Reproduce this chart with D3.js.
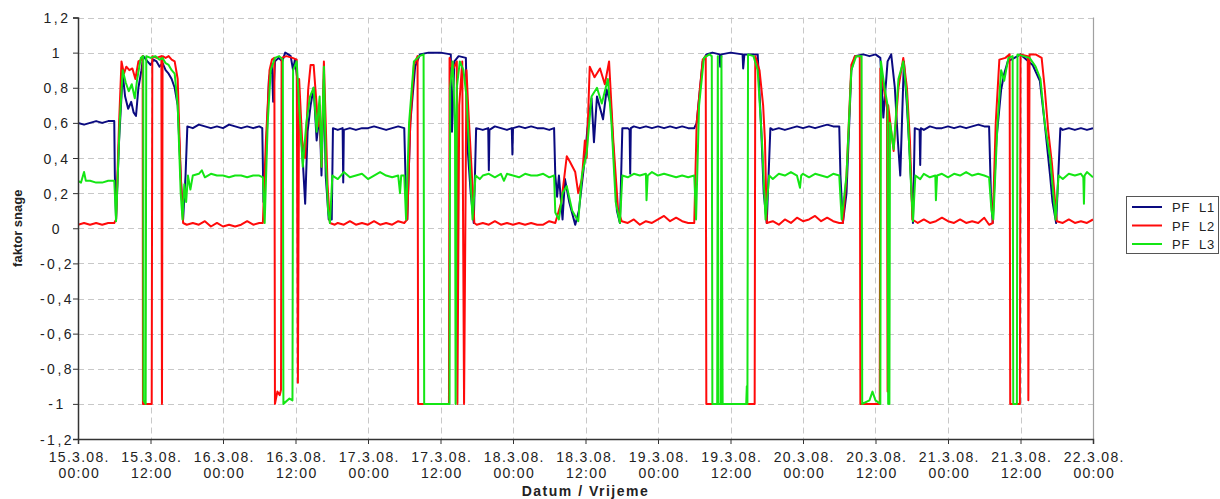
<!DOCTYPE html>
<html>
<head>
<meta charset="utf-8">
<script src="https://cdn.jsdelivr.net/npm/d3@7"></script>
<style>
  body { margin: 0; background: #fff; }
  svg { display: block; font-family: "Liberation Sans", Arial, sans-serif; }
</style>
</head>
<body>
<svg width="1220" height="499"></svg>
<script>
// [hours since 15.3.08. 00:00, power factor]
const pfL1 = [
  [0,0.60],[1,0.59],[2,0.60],[3,0.61],[4,0.60],[5,0.61],[6,0.61],[6.1,0.3],[6.3,0.05],[6.8,0.5],[7.4,0.88],[7.8,0.75],
  [8.3,0.68],[8.8,0.72],[9.2,0.66],[9.6,0.64],[10.0,0.8],[10.5,0.9],[10.8,0.98],[11.5,0.95],[12,0.93],[12.5,0.96],[13,0.95],
  [13.5,0.92],[14,0.94],[14.5,0.9],[15,0.88],[15.5,0.85],[16,0.8],[16.5,0.7],[17,0.3],[17.4,0.05],[17.8,0.3],[18.1,0.58],
  [19,0.57],[20,0.59],[21,0.58],[22,0.57],[23,0.58],[24,0.57],[25,0.59],[26,0.58],[27,0.57],[28,0.58],[29,0.57],[30,0.58],
  [30.5,0.57],[30.7,0.15],[31.0,0.3],[31.6,0.85],[32.1,0.93],[32.3,0.72],[32.6,0.95],[33.2,0.97],[33.8,0.95],[34.3,1.0],
  [34.8,0.99],[35.2,0.98],[35.6,0.9],[35.9,0.96],[36.3,0.85],[36.7,0.6],[37.1,0.45],[37.6,0.14],[38.0,0.55],[38.5,0.7],
  [39.0,0.8],[39.5,0.5],[40.0,0.65],[40.3,0.3],[40.7,0.85],[41.0,0.3],[41.5,0.05],[42.0,0.05],[42.2,0.57],[43,0.56],
  [43.8,0.57],[43.9,0.26],[44.0,0.56],[45,0.57],[46,0.56],[47,0.57],[48,0.57],[49,0.58],[50,0.57],[51,0.56],[52,0.57],
  [53,0.58],[54,0.57],[54.2,0.3],[54.5,0.05],[55,0.6],[55.8,0.92],[56.6,0.99],[58,1.0],[60,1.0],[61.7,0.99],[61.9,0.55],
  [62.3,0.95],[63,0.98],[64.2,0.97],[64.5,0.45],[65,0.2],[65.5,0.03],[65.9,0.57],[67,0.56],[67.9,0.57],[68,0.33],[68.1,0.56],
  [69,0.58],[70,0.57],[71,0.56],[71.8,0.57],[71.9,0.42],[72,0.57],[73,0.58],[74,0.57],[75,0.58],[76,0.57],[77,0.57],
  [78,0.56],[78.8,0.57],[79.0,0.3],[79.3,0.18],[79.6,0.3],[80.2,0.05],[80.6,0.28],[81.3,0.15],[82.3,0.02],[82.9,0.1],
  [83.9,0.4],[84.4,0.6],[85,0.74],[85.4,0.49],[85.9,0.75],[86.9,0.62],[87.5,0.79],[88.2,0.7],[89.2,0.1],[89.7,0.03],
  [90.1,0.57],[91,0.57],[91.3,0.56],[91.4,0.31],[91.5,0.57],[92,0.58],[93,0.57],[94,0.58],[95,0.57],[96,0.58],[97,0.57],
  [98,0.58],[99,0.57],[100,0.58],[101,0.57],[102,0.57],[102.4,0.6],[103.4,0.95],[104,0.99],[105,1.0],[106.2,0.99],
  [106.3,0.92],[106.5,0.99],[108,1.0],[110,0.99],[110.1,0.91],[110.3,0.99],[112.5,0.99],[113.1,0.55],[113.5,0.2],[114,0.03],
  [114.6,0.57],[115,0.56],[116,0.57],[117,0.56],[118,0.57],[119,0.58],[120,0.57],[121,0.58],[122,0.57],[123,0.58],
  [124,0.59],[125,0.58],[126,0.58],[126.2,0.3],[126.6,0.03],[127.2,0.2],[128,0.9],[128.6,0.98],[130,0.99],[131,0.98],
  [132,0.99],[132.8,0.97],[133.3,0.63],[134,0.95],[134.6,0.99],[135.2,0.8],[135.7,0.5],[136.1,0.3],[136.7,0.95],[137.2,0.7],
  [137.7,0.4],[138.2,0.03],[138.5,0.57],[139.3,0.56],[139.4,0.36],[139.5,0.57],[140,0.56],[141,0.58],[142,0.57],[143,0.57],
  [144,0.58],[145,0.57],[146,0.58],[147,0.57],[148,0.58],[149,0.59],[150,0.58],[150.8,0.58],[151.1,0.2],[151.4,0.03],
  [152.0,0.5],[152.8,0.79],[153.3,0.88],[153.9,0.95],[155,0.97],[156,0.99],[157,0.96],[158,0.93],[159.2,0.84],[160,0.6],
  [160.9,0.3],[161.3,0.15],[161.9,0.03],[162.6,0.57],[163,0.56],[164,0.57],[165,0.56],[166,0.57],[167,0.56],[168,0.57],
];
const pfL2 = [
  [0,0.02],[1,0.03],[2,0.02],[3,0.03],[4,0.02],[5,0.03],[6,0.03],[6.3,0.05],[6.8,0.6],[7.2,0.95],[7.6,0.88],[8.0,0.92],
  [8.5,0.9],[9.0,0.91],[9.5,0.85],[10.0,0.95],[10.5,0.96],[10.7,0.98],[10.75,-1],[12.2,-1],[12.3,0.98],[13.0,0.97],
  [13.8,0.98],[13.9,-1],[14.0,0.98],[14.5,0.97],[15,0.98],[15.5,0.96],[16,0.95],[16.5,0.85],[17.0,0.3],[17.4,0.03],
  [18,0.02],[19,0.03],[20,0.02],[21,0.04],[22,0.01],[23,0.03],[24,0.01],[25,0.02],[26,0.01],[27,0.02],[28,0.04],[29,0.02],
  [30,0.03],[30.6,0.03],[31.1,0.5],[31.7,0.9],[32.1,0.96],[32.5,0.97],[32.6,-1],[33.0,-0.93],[33.4,-0.95],[33.6,-0.92],
  [33.7,0.97],[34.5,0.98],[35.5,0.97],[36.2,0.96],[36.4,-0.88],[36.6,0.85],[37.1,0.5],[37.6,0.4],[38.1,0.79],[38.5,0.93],
  [39.0,0.93],[39.5,0.7],[39.7,0.58],[40.0,0.7],[40.3,0.35],[40.7,0.95],[41.0,0.6],[41.3,0.25],[41.7,0.03],[42.5,0.02],
  [43,0.03],[44,0.02],[45,0.04],[46,0.02],[47,0.03],[48,0.02],[49,0.04],[50,0.02],[51,0.03],[52,0.02],[53,0.04],[54,0.03],
  [54.5,0.05],[55,0.6],[55.6,0.93],[56.2,0.98],[56.3,-1],[61.4,-1],[61.5,0.97],[62,0.9],[62.7,0.95],[62.8,-1],[63.1,0.7],
  [63.6,0.95],[63.9,-1],[64.3,0.9],[64.6,0.68],[65.2,0.3],[65.6,0.03],[66,0.02],[67,0.03],[68,0.02],[69,0.04],[70,0.02],
  [71,0.03],[72,0.02],[73,0.03],[74,0.02],[75,0.03],[76,0.02],[77,0.02],[78,0.04],[79,0.03],[80,0.15],[80.9,0.41],
  [81.4,0.38],[82.3,0.32],[82.8,0.2],[83.4,0.28],[83.9,0.5],[84.2,0.4],[84.7,0.92],[85.5,0.86],[86.4,0.91],[87.2,0.82],
  [87.9,0.95],[88.6,0.5],[89.4,0.1],[90,0.04],[91,0.03],[92,0.05],[93,0.02],[94,0.04],[95,0.03],[96,0.05],[97,0.07],
  [98,0.04],[99,0.06],[100,0.04],[101,0.03],[102,0.03],[102.4,0.6],[103.4,0.96],[103.9,0.98],[104.0,-1],[112.0,-1],
  [112.1,0.98],[112.8,0.9],[113.4,0.7],[113.7,0.5],[114,0.03],[115,0.04],[116,0.02],[117,0.05],[118,0.03],[119,0.06],
  [120,0.04],[121,0.05],[122,0.07],[123,0.04],[124,0.06],[125,0.04],[126,0.03],[126.6,0.03],[127.2,0.3],[128,0.93],
  [128.6,0.98],[129.4,0.98],[129.5,-1],[132.7,-1],[132.8,0.91],[133.9,0.69],[134.0,-0.93],[134.1,0.7],[135,0.44],
  [135.8,0.8],[136.6,0.97],[137.2,0.8],[137.7,0.5],[138.1,0.05],[139,0.03],[140,0.05],[141,0.03],[142,0.04],[143,0.06],
  [144,0.04],[145,0.03],[146,0.05],[147,0.03],[148,0.04],[149,0.03],[150,0.06],[150.8,0.02],[151.4,0.03],[151.9,0.6],
  [152.5,0.96],[153.5,0.97],[154.2,0.99],[154.3,-1],[155.9,-1],[156,0.99],[157.2,0.98],[157.3,-0.98],[157.5,0.99],
  [158.5,0.99],[159.5,0.97],[160,0.8],[160.6,0.55],[161.2,0.37],[162,0.04],[163,0.03],[164,0.05],[165,0.03],[166,0.04],
  [167,0.03],[168,0.05],
];
const pfL3 = [
  [0,0.27],[0.5,0.26],[1,0.32],[1.3,0.27],[2,0.27],[3,0.26],[4,0.26],[5,0.27],[6,0.27],[6.1,0.2],[6.3,0.04],[6.9,0.6],
  [7.4,0.9],[7.9,0.83],[8.4,0.78],[8.9,0.82],[9.4,0.74],[9.8,0.85],[10.4,0.97],[10.8,0.98],[10.85,-0.98],[11.2,-1],
  [11.3,0.98],[12,0.97],[12.8,0.98],[13.5,0.96],[14,0.97],[14.5,0.94],[15,0.93],[15.5,0.9],[16,0.88],[16.5,0.7],[17,0.2],
  [17.3,0.05],[17.6,0.25],[17.9,0.15],[18.2,0.3],[18.6,0.22],[19,0.3],[20,0.31],[20.5,0.33],[21,0.29],[22,0.31],[23,0.3],
  [24,0.3],[25,0.29],[26,0.3],[27,0.3],[28,0.29],[29,0.3],[30,0.3],[30.6,0.29],[30.9,0.03],[31.4,0.6],[31.9,0.9],
  [32.6,0.97],[33.3,0.98],[33.9,0.96],[34.0,-1],[35.0,-0.97],[35.5,-0.98],[35.6,0.9],[36.2,0.95],[36.6,0.7],[37.2,0.35],
  [37.8,0.6],[38.4,0.75],[39,0.8],[39.5,0.55],[40,0.75],[40.3,0.35],[40.7,0.92],[41.0,0.4],[41.4,0.1],[41.7,0.03],
  [42.1,0.3],[43,0.28],[44,0.32],[45,0.29],[46,0.3],[47,0.31],[48,0.28],[49,0.3],[50,0.32],[51,0.3],[52,0.29],[53,0.3],
  [53.3,0.2],[53.5,0.3],[54,0.3],[54.3,0.05],[54.8,0.6],[55.6,0.95],[56.5,0.98],[57.2,0.99],[57.3,-1],[61.5,-1],[61.6,0.8],
  [62,0.95],[62.4,0.6],[62.5,-1],[62.7,0.8],[63.2,0.95],[63.8,0.9],[64.3,0.75],[64.8,0.4],[65.3,0.05],[65.8,0.3],
  [66.5,0.28],[67,0.3],[68,0.31],[69,0.29],[70,0.31],[70.5,0.27],[71,0.31],[72,0.3],[73,0.29],[74,0.31],[75,0.3],[76,0.3],
  [77,0.31],[78,0.29],[78.8,0.3],[79.0,0.09],[79.6,0.05],[80.2,0.2],[80.9,0.24],[81.8,0.1],[82.8,0.04],[83.4,0.3],
  [84.2,0.43],[85,0.75],[85.9,0.8],[86.7,0.71],[87.7,0.85],[88.3,0.6],[89,0.15],[89.7,0.03],[90.1,0.3],[91,0.29],[92,0.31],
  [93,0.3],[94,0.31],[94.1,0.16],[94.3,0.3],[95,0.32],[96,0.3],[97,0.31],[98,0.3],[99,0.29],[100,0.3],[101,0.29],[102,0.3],
  [102.3,0.05],[102.8,0.7],[103.6,0.97],[104.5,0.99],[104.9,0.98],[105.0,-1],[105.8,-1],[105.9,0.98],[106.0,-1],[106.4,-1],
  [106.5,0.98],[106.7,-1],[110.6,-1],[110.7,-0.9],[110.8,-1],[110.9,0.99],[111.8,0.98],[112.5,0.9],[113.2,0.5],[113.8,0.05],
  [114.4,0.3],[115,0.28],[116,0.31],[117,0.3],[118,0.32],[119,0.3],[119.5,0.23],[119.7,0.3],[120,0.31],[121,0.29],
  [122,0.31],[123,0.3],[124,0.29],[125,0.31],[126,0.3],[126.4,0.05],[127.2,0.3],[128,0.9],[128.8,0.98],[129.7,0.98],
  [129.8,-1],[131,-0.98],[131.5,-0.93],[132,-0.98],[132.8,-1],[132.9,0.95],[133.5,0.8],[134.0,0.7],[134.1,-1],[134.3,-1],
  [134.4,0.6],[135,0.45],[135.8,0.85],[136.6,0.95],[137.2,0.75],[137.8,0.3],[138.2,0.04],[138.6,0.3],[139.4,0.28],
  [140,0.31],[141,0.29],[141.9,0.3],[142,0.16],[142.2,0.3],[143,0.31],[144,0.29],[145,0.31],[146,0.3],[147,0.32],[148,0.3],
  [149,0.31],[150,0.3],[150.8,0.29],[151.2,0.1],[151.5,0.05],[152.2,0.6],[152.8,0.9],[153.3,0.84],[154,0.97],[154.7,0.98],
  [154.8,-1],[155.4,-1],[155.5,0.99],[156.5,0.98],[157.5,0.97],[158.5,0.92],[159.3,0.85],[160,0.6],[160.9,0.4],
  [161.8,0.05],[162.3,0.3],[163,0.28],[164,0.31],[165,0.3],[166,0.31],[166.4,0.29],[166.5,0.14],[166.6,0.3],[167,0.32],
  [168,0.29],
];
const seriesNames = ['PF L1', 'PF L2', 'PF L3'];
const seriesColors = ['#0a0a80', '#ff0a0a', '#14e614'];
const yTicks = [-1.2, -1, -0.8, -0.6, -0.4, -0.2, 0, 0.2, 0.4, 0.6, 0.8, 1, 1.2];

const start = new Date(2008, 2, 15, 0, 0);
const end = new Date(2008, 2, 22, 0, 0);
const toDate = h => new Date(start.getTime() + h * 3600e3);

const svg = d3.select('svg');
const plotLeft = 78, plotRight = 1093, plotTop = 17.5, plotBottom = 439;
const font = '"Liberation Sans", Arial, sans-serif';

const x = d3.scaleTime().domain([start, end]).range([plotLeft, plotRight]);
const y = d3.scaleLinear().domain([-1.2, 1.2]).range([plotBottom, plotTop]);
const xTicks = d3.timeHour.every(12).range(start, d3.timeHour.offset(end, 1));

const fmtNum = d => String(+d.toFixed(1)).replace('.', ',');
const fmtDay = d3.timeFormat('%-d.%-m.%y.');
const fmtTime = d3.timeFormat('%H:%M');

// grid
const grid = svg.append('g').attr('stroke', '#c8c8c8').attr('stroke-dasharray', '6,4').attr('stroke-width', 1);
grid.selectAll('.hy').data(yTicks).join('line')
  .attr('x1', plotLeft).attr('x2', plotRight)
  .attr('y1', d => Math.round(y(d)) + 0.5).attr('y2', d => Math.round(y(d)) + 0.5);
grid.selectAll('.vx').data(xTicks.slice(1, -1)).join('line')
  .attr('y1', plotTop).attr('y2', plotBottom)
  .attr('x1', d => Math.round(x(d)) + 0.5).attr('x2', d => Math.round(x(d)) + 0.5);

// right border
svg.append('line')
  .attr('x1', plotRight + 0.5).attr('x2', plotRight + 0.5).attr('y1', plotTop).attr('y2', plotBottom)
  .attr('stroke', '#a0a0a0').attr('stroke-width', 1.2);

// series
svg.append('clipPath').attr('id', 'plot')
  .append('rect').attr('x', plotLeft).attr('y', plotTop)
  .attr('width', plotRight - plotLeft).attr('height', plotBottom - plotTop);
const line = d3.line().x(d => x(toDate(d[0]))).y(d => y(d[1]));
const lines = svg.append('g').attr('clip-path', 'url(#plot)');
[pfL1, pfL2, pfL3].forEach((s, i) => {
  lines.append('path')
    .datum(s)
    .attr('d', line)
    .attr('fill', 'none')
    .attr('stroke', seriesColors[i])
    .attr('stroke-width', 2)
    .attr('stroke-linejoin', 'round');
});

// y axis
const yAxis = svg.append('g')
  .attr('transform', 'translate(' + plotLeft + ',0)')
  .call(d3.axisLeft(y).tickValues(yTicks).tickSize(5).tickFormat(''));
yAxis.select('.domain').attr('stroke', '#333').attr('stroke-width', 1.5);
yAxis.selectAll('.tick line').attr('stroke', '#333');
yAxis.selectAll('.tick').append('text')
  .attr('x', -21).attr('dy', '0.36em')
  .attr('text-anchor', 'middle').attr('font-size', 14).attr('letter-spacing', 2.5)
  .attr('fill', '#222').attr('font-family', font)
  .text(d => fmtNum(d));

// x axis
const xAxis = svg.append('g')
  .attr('transform', 'translate(0,' + plotBottom + ')')
  .call(d3.axisBottom(x).tickValues(xTicks).tickSize(5).tickFormat(''));
xAxis.select('.domain').attr('stroke', '#333').attr('stroke-width', 1.5);
xAxis.selectAll('.tick line').attr('stroke', '#333');
const xl = xAxis.selectAll('.tick').append('text')
  .attr('fill', '#222').attr('font-size', 14).attr('letter-spacing', 1.3).attr('text-anchor', 'middle')
  .attr('font-family', font);
xl.append('tspan').attr('x', 0.7).attr('y', 23).text(d => fmtDay(d));
xl.append('tspan').attr('x', 0.7).attr('y', 39).text(d => fmtTime(d));

// axis titles
svg.append('text')
  .attr('x', (plotLeft + plotRight) / 2).attr('y', 496)
  .attr('text-anchor', 'middle').attr('font-size', 14).attr('letter-spacing', 1.5)
  .attr('font-weight', 'bold').attr('fill', '#222')
  .text('Datum / Vrijeme');
svg.append('text')
  .attr('transform', 'translate(22,' + y(0) + ') rotate(-90)')
  .attr('text-anchor', 'middle').attr('font-size', 13).attr('font-weight', 'bold').attr('fill', '#222')
  .text('faktor snage');

// legend
const lg = svg.append('g').attr('transform', 'translate(1126,196)');
lg.append('rect').attr('x', 0.5).attr('y', 0.5).attr('width', 92).attr('height', 57)
  .attr('fill', '#fff').attr('stroke', '#555').attr('stroke-width', 1);
seriesNames.forEach((name, i) => {
  const row = lg.append('g').attr('transform', 'translate(0,' + (11 + i * 18.5) + ')');
  row.append('line').attr('x1', 6).attr('x2', 36).attr('y1', 0).attr('y2', 0)
    .attr('stroke', seriesColors[i]).attr('stroke-width', 2);
  row.append('text').attr('x', 46).attr('y', 5).attr('font-size', 13).attr('letter-spacing', 0.8)
    .attr('fill', '#222').text(name.replace(' ', '\u00a0 '));
});
</script>
</body>
</html>
